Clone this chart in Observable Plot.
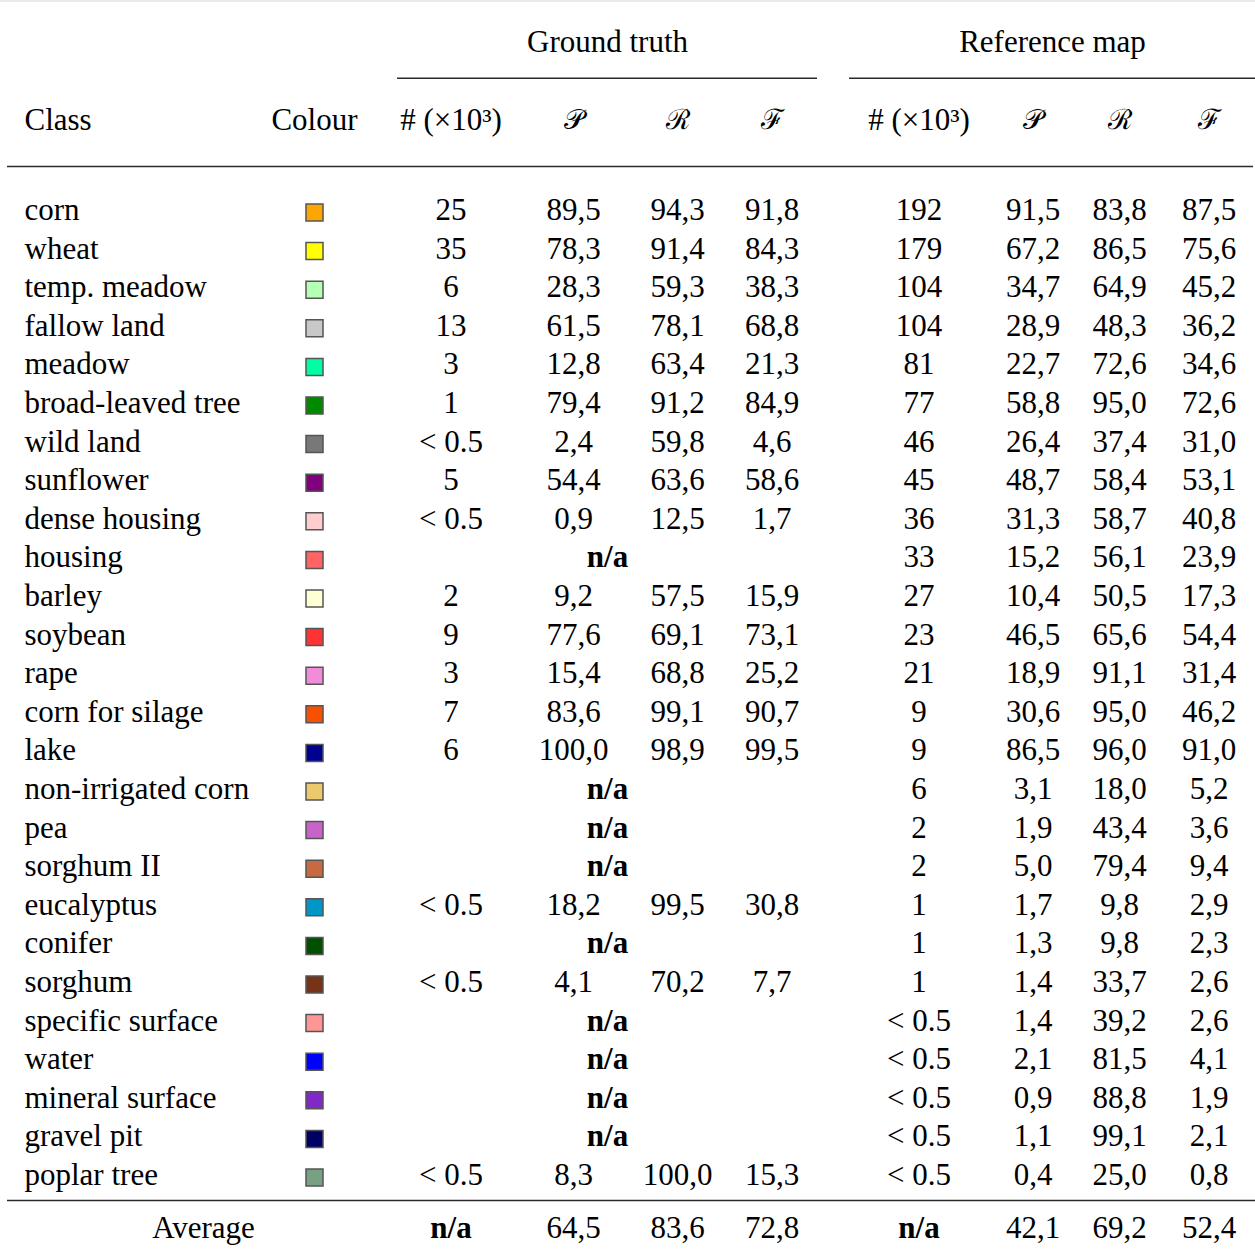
<!DOCTYPE html>
<html>
<head>
<meta charset="utf-8">
<script src="https://cdn.jsdelivr.net/npm/d3@7"></script>
<script src="https://cdn.jsdelivr.net/npm/@observablehq/plot@0.6"></script>
<style>
  html, body { margin: 0; padding: 0; background: #fff; }
</style>
</head>
<body>
<div id="chart"></div>
<script>
// ---------- DATA ----------
const classes = ["corn", "wheat", "temp. meadow", "fallow land", "meadow", "broad-leaved tree", "wild land",
  "sunflower", "dense housing", "housing", "barley", "soybean", "rape", "corn for silage", "lake",
  "non-irrigated corn", "pea", "sorghum II", "eucalyptus", "conifer", "sorghum", "specific surface",
  "water", "mineral surface", "gravel pit", "poplar tree"];
const colours = ["#ffa500", "#ffff00", "#b4ffb4", "#c8c8c8", "#00ffa5", "#008a00", "#787878",
  "#800080", "#ffcdcd", "#ff6464", "#ffffd4", "#ff3333", "#f08cd8", "#f85000", "#000090",
  "#ecc86e", "#c864c8", "#c86a40", "#0096c8", "#005000", "#783218", "#ff9696",
  "#0000ff", "#8228c8", "#000064", "#78a082"];

// Ground truth (null = n/a)
const gtCount = [25, 35, 6, 13, 3, 1, "< 0.5", 5, "< 0.5", null, 2, 9, 3, 7, 6, null, null, null, "< 0.5", null, "< 0.5", null, null, null, null, "< 0.5"];
const gtP = [89.5, 78.3, 28.3, 61.5, 12.8, 79.4, 2.4, 54.4, 0.9, null, 9.2, 77.6, 15.4, 83.6, 100.0, null, null, null, 18.2, null, 4.1, null, null, null, null, 8.3];
const gtR = [94.3, 91.4, 59.3, 78.1, 63.4, 91.2, 59.8, 63.6, 12.5, null, 57.5, 69.1, 68.8, 99.1, 98.9, null, null, null, 99.5, null, 70.2, null, null, null, null, 100.0];
const gtF = [91.8, 84.3, 38.3, 68.8, 21.3, 84.9, 4.6, 58.6, 1.7, null, 15.9, 73.1, 25.2, 90.7, 99.5, null, null, null, 30.8, null, 7.7, null, null, null, null, 15.3];

// Reference map
const rmCount = [192, 179, 104, 104, 81, 77, 46, 45, 36, 33, 27, 23, 21, 9, 9, 6, 2, 2, 1, 1, 1, "< 0.5", "< 0.5", "< 0.5", "< 0.5", "< 0.5"];
const rmP = [91.5, 67.2, 34.7, 28.9, 22.7, 58.8, 26.4, 48.7, 31.3, 15.2, 10.4, 46.5, 18.9, 30.6, 86.5, 3.1, 1.9, 5.0, 1.7, 1.3, 1.4, 1.4, 2.1, 0.9, 1.1, 0.4];
const rmR = [83.8, 86.5, 64.9, 48.3, 72.6, 95.0, 37.4, 58.4, 58.7, 56.1, 50.5, 65.6, 91.1, 95.0, 96.0, 18.0, 43.4, 79.4, 9.8, 9.8, 33.7, 39.2, 81.5, 88.8, 99.1, 25.0];
const rmF = [87.5, 75.6, 45.2, 36.2, 34.6, 72.6, 31.0, 53.1, 40.8, 23.9, 17.3, 54.4, 31.4, 46.2, 91.0, 5.2, 3.6, 9.4, 2.9, 2.3, 2.6, 2.6, 4.1, 1.9, 2.1, 0.8];

// Averages [count, P, R, F]
const avgGT = [null, 64.5, 83.6, 72.8];
const avgRM = [null, 42.1, 69.2, 52.4];

const groupLabels = ["Ground truth", "Reference map"];
const headerLabels = ["Class", "Colour", "# (×10³)", "𝒫", "ℛ", "ℱ", "# (×10³)", "𝒫", "ℛ", "ℱ"];
const mathHeaders = new Set(["𝒫", "ℛ", "ℱ"]);
const averageLabel = "Average";
const naLabel = "n/a";

// ---------- LAYOUT (scale units) ----------
const colKeys = ["class", "colour", "gtN", "gtP", "gtR", "gtF", "rmN", "rmP", "rmR", "rmF"];
const colX = {class: 24, colour: 314, gtN: 450.5, gtP: 573, gtR: 677, gtF: 771.5, rmN: 918.5, rmP: 1032.5, rmR: 1119, rmF: 1208.5};
const averageX = 203;
const groupSpan = [[397, 817], [849, 1255]];
const L = {top: -5.415, group: -4.339, cmid: -3.415, header: -2.332, headRule: -1.127, avgRule: 25.66, avg: 26.386};
const font = "'Liberation Serif', 'Times New Roman', 'DejaVu Serif', serif";
const mathFont = "'DejaVu Serif', serif";
const fs = 31;

// ---------- TABLE BUILD ----------
const fmtPct = v => d3.format(".1f")(v).replace(".", ",");
const fmtCount = v => typeof v === "string" ? v : String(v);

const cells = [];   // regular text cells
const bold = [];    // bold n/a cells
const math = [];    // calligraphic metric headers
classes.forEach((c, i) => {
  cells.push({x: colX.class, y: i, t: c, anchor: "start"});
  if (gtCount[i] == null) {
    bold.push({x: (groupSpan[0][0] + groupSpan[0][1]) / 2, y: i, t: naLabel});
  } else {
    cells.push({x: colX.gtN, y: i, t: fmtCount(gtCount[i]), anchor: "middle"});
    cells.push({x: colX.gtP, y: i, t: fmtPct(gtP[i]), anchor: "middle"});
    cells.push({x: colX.gtR, y: i, t: fmtPct(gtR[i]), anchor: "middle"});
    cells.push({x: colX.gtF, y: i, t: fmtPct(gtF[i]), anchor: "middle"});
  }
  cells.push({x: colX.rmN, y: i, t: fmtCount(rmCount[i]), anchor: "middle"});
  cells.push({x: colX.rmP, y: i, t: fmtPct(rmP[i]), anchor: "middle"});
  cells.push({x: colX.rmR, y: i, t: fmtPct(rmR[i]), anchor: "middle"});
  cells.push({x: colX.rmF, y: i, t: fmtPct(rmF[i]), anchor: "middle"});
});

// average row
cells.push({x: averageX, y: L.avg, t: averageLabel, anchor: "middle"});
[avgGT, avgRM].forEach((arr, g) => {
  const keys = g === 0 ? ["gtN", "gtP", "gtR", "gtF"] : ["rmN", "rmP", "rmR", "rmF"];
  arr.forEach((v, j) => {
    if (v == null) bold.push({x: colX[keys[j]], y: L.avg, t: naLabel});
    else cells.push({x: colX[keys[j]], y: L.avg, t: fmtPct(v), anchor: "middle"});
  });
});

// header row
headerLabels.forEach((h, j) => {
  const cell = {x: colX[colKeys[j]], y: L.header, t: h, anchor: j === 0 ? "start" : "middle"};
  if (mathHeaders.has(h)) math.push(cell); else cells.push(cell);
});
groupLabels.forEach((g, k) => {
  cells.push({x: (groupSpan[k][0] + groupSpan[k][1]) / 2, y: L.group, t: g, anchor: "middle"});
});

const swatches = classes.map((c, i) => ({x: colX.colour, y: i, fill: colours[i]}));

const rulesDark = [
  {y: L.headRule, x1: 7, x2: 1253},
  {y: L.avgRule, x1: 7, x2: 1255},
  {y: L.cmid, x1: groupSpan[0][0], x2: groupSpan[0][1]},
  {y: L.cmid, x1: groupSpan[1][0], x2: groupSpan[1][1]}
];
const rulesLight = [{y: L.top, x1: 0, x2: 1255}];

const textOpts = {x: "x", y: "y", text: "t", fontFamily: font, fontSize: fs, fill: "#000"};

const chart = Plot.plot({
  width: 1255,
  height: 1258,
  margin: 0,
  x: {type: "linear", domain: [0, 1255], range: [0, 1255], axis: null},
  y: {type: "linear", domain: [0, 25], range: [209.5, 1174.5], axis: null},
  color: {type: "identity"},
  style: {background: "#fff"},
  marks: [
    Plot.ruleY(rulesLight, {y: "y", x1: "x1", x2: "x2", stroke: "#e2e2e2", strokeWidth: 1.5}),
    Plot.ruleY(rulesDark, {y: "y", x1: "x1", x2: "x2", stroke: "#2a2a2a", strokeWidth: 1.6}),
    Plot.text(cells.filter(d => d.anchor === "start"), {...textOpts, textAnchor: "start"}),
    Plot.text(cells.filter(d => d.anchor === "middle"), {...textOpts, textAnchor: "middle"}),
    Plot.text(math, {...textOpts, fontFamily: mathFont, fontSize: 28, textAnchor: "middle"}),
    Plot.text(bold, {...textOpts, textAnchor: "middle", fontWeight: "bold"}),
    Plot.dot(swatches, {x: "x", y: "y", fill: "fill", symbol: "square", r: 9.6, stroke: "#555", strokeWidth: 1.5, dy: 2.5})
  ]
});
document.getElementById("chart").appendChild(chart);
</script>
</body>
</html>
